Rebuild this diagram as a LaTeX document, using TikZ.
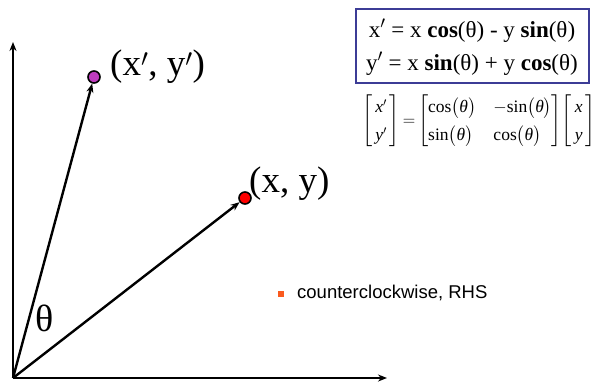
\documentclass[tikz,border=0pt]{standalone}
\usepackage{fontspec}
\setmainfont{Liberation Serif}
\newfontfamily\arialfont{Liberation Sans}
\usepackage{amsmath}
\usetikzlibrary{arrows.meta}
\begin{document}
\begin{tikzpicture}[x=1pt,y=-1pt,
  vec/.style={line width=2.4pt,-{Stealth[length=9pt,width=7pt]}},
  pt/.style={circle,draw=black,line width=1.6pt,minimum size=12pt,inner sep=0pt},
  lbl/.style={font=\fontsize{37}{39}\selectfont,inner sep=0pt}]
\useasboundingbox (0,0) rectangle (595,381);
\coordinate (o) at (13,378);
\coordinate (yend) at (13,42);
\coordinate (xend) at (387,378);
\node[pt,fill={rgb,255:red,190;green,60;blue,190}] (p2) at (94,77) {};
\node[pt,fill=red] (p1) at (245,198) {};
\draw[vec] (o) -- (yend);
\draw[vec] (o) -- (xend);
\draw[vec] (o) -- (p2);
\draw[vec] (o) -- (p1);
\node[lbl,anchor=west] (l2) at (110,67) {(x$'$, y$'$)};
\node[lbl,anchor=west] (l1) at (249,184) {(x, y)};
\node[font=\fontsize{38}{40}\selectfont,inner sep=0pt] (th) at (45,318) {θ};
\node[draw={rgb,255:red,60;green,60;blue,150},line width=2pt,inner sep=0pt,minimum width=233pt,minimum height=74pt] (box) at (472.5,46) {};
\node[font=\fontsize{23}{25}\selectfont,inner sep=0pt] (eq1) at (472,31) {x$'$ = x \textbf{cos}(θ) - y \textbf{sin}(θ)};
\node[font=\fontsize{23}{25}\selectfont,inner sep=0pt] (eq2) at (472,64) {y$'$ = x \textbf{sin}(θ) + y \textbf{cos}(θ)};
\node[font=\fontsize{17.5}{19}\selectfont,inner sep=0pt] (mat) at (479,121)
 {\renewcommand{\arraystretch}{1.45}$\left[\begin{array}{@{\,}c@{\,}}\text{\itshape x}'\\ \text{\itshape y}'\end{array}\right]
 {=}
 \left[\begin{array}{@{}l@{\quad}l@{}}\text{cos}\big(\text{\itshape θ}\big) & -\text{sin}\big(\text{\itshape θ}\big)\\ \text{sin}\big(\text{\itshape θ}\big) & \text{cos}\big(\text{\itshape θ}\big)\end{array}\right]\!
 \left[\begin{array}{@{\,}c@{\,}}\text{\itshape x}\\ \text{\itshape y}\end{array}\right]$};
\node[fill={rgb,255:red,250;green,90;blue,30},minimum size=6pt,inner sep=0pt] (bul) at (281,294) {};
\node[font=\arialfont\fontsize{18.5}{20}\selectfont,anchor=west,inner sep=0pt] (txt) at (297,293) {counterclockwise, RHS};
\end{tikzpicture}
\end{document}
